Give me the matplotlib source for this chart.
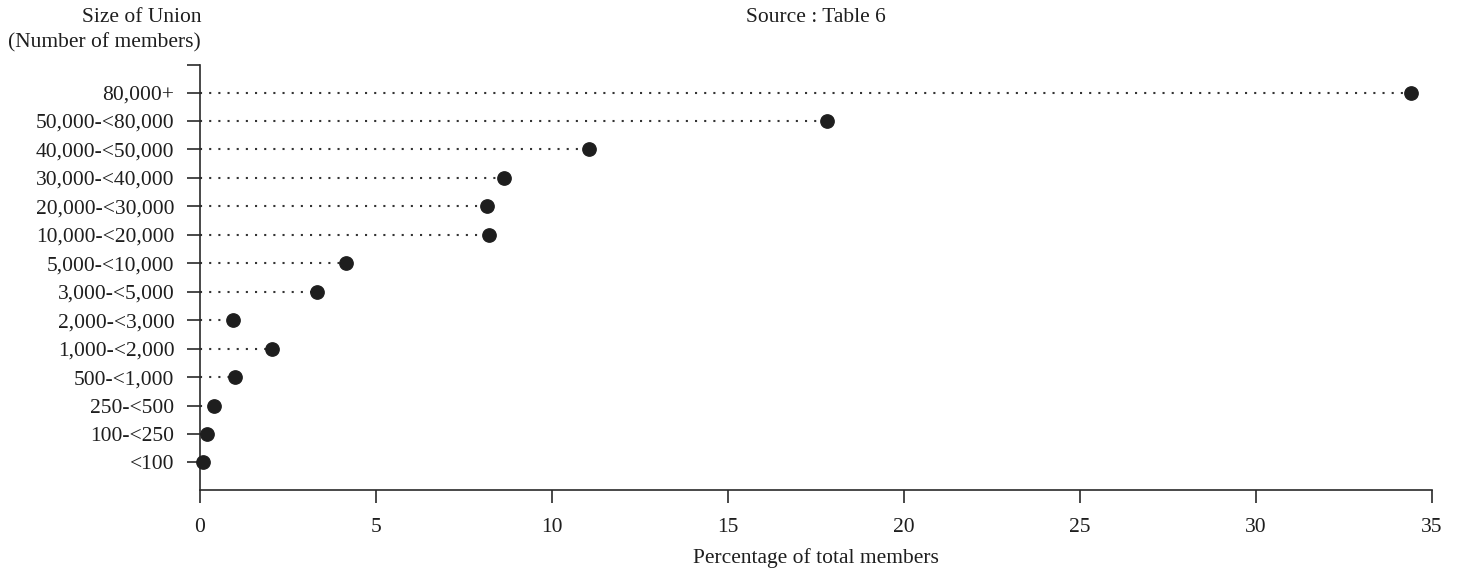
import matplotlib
matplotlib.use("Agg")
import matplotlib.pyplot as plt

categories = ["80,000+", "50,000-<80,000", "40,000-<50,000", "30,000-<40,000",
              "20,000-<30,000", "10,000-<20,000", "5,000-<10,000", "3,000-<5,000",
              "2,000-<3,000", "1,000-<2,000", "500-<1,000", "250-<500",
              "100-<250", "<100"]
percent = [34.4, 17.8, 11.05, 8.65, 8.14, 8.22, 4.14, 3.33, 0.93, 2.04, 1.0, 0.41, 0.19, 0.09]
xticks = [0, 5, 10, 15, 20, 25, 30, 35]

plt.rcParams['font.family'] = ['Liberation Serif', 'DejaVu Serif']
FS = 15.5
INK = '#1e1e1e'

fig = plt.figure(figsize=(14.61, 5.71), dpi=100)
ax = fig.add_axes([200/1461, 81/571, 1232/1461, 425/571])

n = len(categories)
ypos = [n - 1 - i for i in range(n)]

for y, v in zip(ypos, percent):
    ax.plot([0, v], [y, y], color='#333333', lw=1.5,
            linestyle=(0, (1.0, 3.4)), dash_capstyle='butt')
ax.plot(percent, ypos, 'o', color=INK, markersize=9.6, zorder=3, clip_on=False)

ax.set_xlim(0, 35)
ax.set_ylim(-0.97, n - 1 + 0.97)
ax.set_xticks(xticks)
ax.set_xticklabels([str(t) for t in xticks], fontsize=FS, color=INK)
ax.set_yticks(ypos + [n - 1 + 0.97])
ax.set_yticklabels(categories + [''], fontsize=FS, color=INK)

ax.tick_params(axis='both', direction='out', length=9.4, width=1.2, color='#2a2a2a')
ax.tick_params(axis='y', pad=9)
ax.tick_params(axis='x', pad=11)

for s in ['top', 'right']:
    ax.spines[s].set_visible(False)
for s in ['left', 'bottom']:
    ax.spines[s].set_color('#2a2a2a')
    ax.spines[s].set_linewidth(1.2)

ax.set_xlabel('Percentage of total members', fontsize=FS, color=INK, labelpad=8)
fig.text(816/1461, 1 - 17/571, 'Source : Table 6', ha='center', va='center', fontsize=FS, color=INK)
fig.text(201/1461, 1 - 18/571, 'Size of Union', ha='right', va='center', fontsize=FS, color=INK)
fig.text(201/1461, 1 - 43/571, '(Number of members)', ha='right', va='center', fontsize=FS, color=INK)

fig.savefig('out.png', dpi=100, facecolor='white')
